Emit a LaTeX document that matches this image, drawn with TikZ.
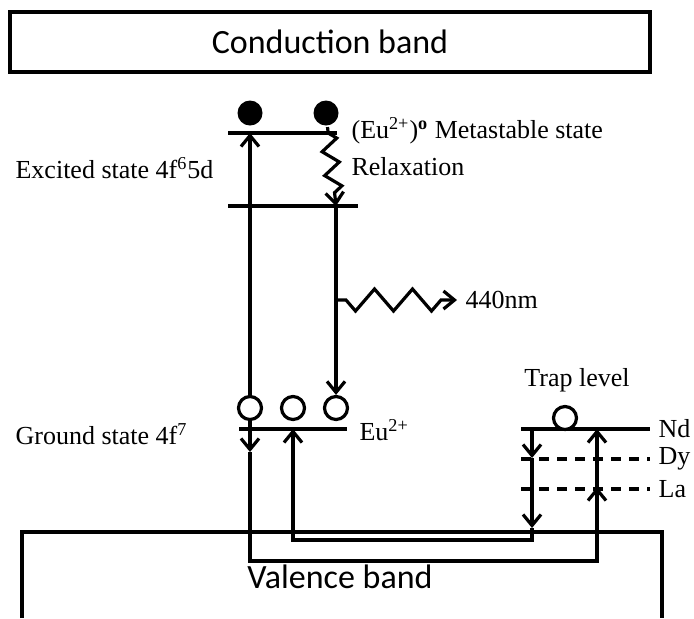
\documentclass[tikz,border=0pt]{standalone}
\usepackage{fontspec}
\setmainfont{Liberation Serif}
\newfontfamily\bandfont{Carlito}
\usetikzlibrary{arrows.meta,decorations.pathmorphing}

\begin{document}
\begin{tikzpicture}[x=0.5pt,y=-0.5pt,line width=1.6pt,
  arr/.style={-{Straight Barb[length=5.5pt,width=9pt]}},
  elec/.style={circle,fill=black,minimum size=12.5pt,inner sep=0pt},
  hole/.style={circle,draw,fill=white,minimum size=11.5pt,inner sep=0pt},
  lbl/.style={font=\fontsize{13}{15}\selectfont,inner sep=0pt,anchor=west},
  bandlbl/.style={font=\bandfont\fontsize{17}{20}\selectfont,inner sep=0pt},
  trap/.style={dash pattern=on 5pt off 4pt},
  relax/.style={decorate,decoration={zigzag,amplitude=4pt,segment length=12pt,pre length=3pt,post length=5pt}},
  emit/.style={decorate,decoration={zigzag,amplitude=-5.5pt,segment length=19pt,pre length=5pt,post length=6pt}}]
  \useasboundingbox (0,0) rectangle (694,618);

  % Conduction band
  \draw (10,12) rectangle (650,72);
  \node[bandlbl] (cb) at (330,42) {Conduction band};

  % Valence band (open at the bottom)
  \draw (22,618) -- (22,532) -- (662,532) -- (662,618);
  \node[bandlbl] (vb) at (340,577) {Valence band};

  % Eu2+ levels
  \coordinate (exA) at (250,133);
  \coordinate (exB) at (336,206);
  \coordinate (gsA) at (293,429);
  \draw (228,133) -- (337,133);
  \draw (228,206) -- (358,206);
  \draw (239,429) -- (347,429);

  % Trap levels
  \draw (521,429) -- (650,429);
  \draw[trap] (521,459) -- (650,459);
  \draw[trap] (521,489) -- (650,489);

  % Electrons and holes
  \node[elec] (e1) at (250,113) {};
  \node[elec] (e2) at (326,113) {};
  \node[hole] (h1) at (250,408) {};
  \node[hole] (h2) at (293,408) {};
  \node[hole] (h3) at (336,408) {};
  \node[hole] (ht) at (565,418) {};

  % Excitation, relaxation, emission
  \draw[arr] (h1) -- (exA);
  \draw[relax,arr] (e2) -- (exB);
  \draw[arr] (exB) -- (h3);
  \coordinate (emS) at (336,300);
  \coordinate (emE) at (457,300);
  \node[lbl] (nm) at (464,300) {440nm};
  \draw[emit,arr] (emS) -- (emE);

  % Outer loop to the traps
  \coordinate (gsD) at (250,452);
  \coordinate (laR) at (597,487);
  \coordinate (ndR) at (597,429);
  \draw[arr] (h1) -- (gsD);
  \draw[arr] (gsD) -- (250,561) -| (laR);
  \draw[arr] (laR) -- (ndR);

  % Inner loop back to Eu2+
  \coordinate (ndL) at (532,429);
  \coordinate (dyL) at (532,458);
  \coordinate (vbL) at (532,528);
  \draw[arr] (ndL) -- (dyL);
  \draw[arr] (dyL) -- (vbL);
  \draw[arr] (vbL) -- (532,540) -| (gsA);

  % Labels
  \node[lbl] (meta) at (350,131) {(Eu\textsuperscript{2+})\textsuperscript{\textbf{o}} Metastable state};
  \node[lbl] (rel) at (350,167) {Relaxation};
  \node[lbl] (exc) at (14,168) {Excited state 4f\textsuperscript{6}5d};
  \node[lbl] (gnd) at (14,434) {Ground state 4f\textsuperscript{7}};
  \node[lbl] (eu) at (358,430) {Eu\textsuperscript{2+}};
  \node[lbl,anchor=center] (trapl) at (577,380) {Trap level};
  \node[lbl] (nd) at (657,429) {Nd};
  \node[lbl] (dy) at (657,459) {Dy};
  \node[lbl] (la) at (657,489) {La};
\end{tikzpicture}
\end{document}
